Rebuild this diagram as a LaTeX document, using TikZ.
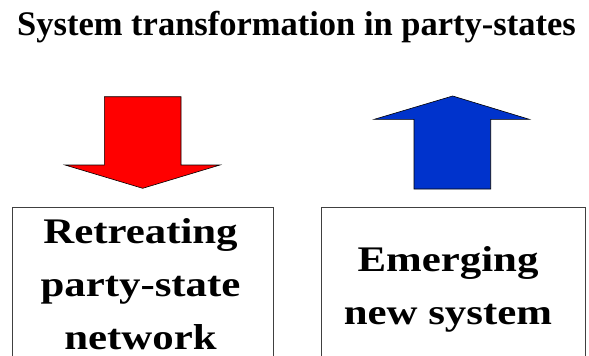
\documentclass[tikz,border=0pt]{standalone}
\usepackage{fontspec}
\setmainfont{Liberation Serif}
\newfontfamily\boxfont[FakeStretch=1.19]{Liberation Serif}
\usepackage{tikz}

\definecolor{upblue}{RGB}{0,51,204}
\definecolor{downred}{RGB}{255,0,0}

\begin{document}
\begin{tikzpicture}[x=1pt,y=-1pt,
	box/.style={draw=black!75, line width=0.8pt, anchor=north west, minimum height=200pt, inner sep=0pt},
	boxtext/.style={font=\boxfont\bfseries\fontsize{36}{53}\selectfont, align=center, anchor=base},
	bigarrow/.style={draw=black, line width=0.6pt, line join=miter}]
	\useasboundingbox (0,0) rectangle (589,356);

	\node[font=\bfseries\fontsize{34.5}{40}\selectfont, anchor=base] (title) at (296.5,35) {System transformation in party-states};

	% down arrow
	\draw[bigarrow, fill=downred] (104.3,96.7) -- (181,96.7) -- (181,165) -- (220,165) -- (142.7,188.3) -- (65,165) -- (104.3,165) -- cycle;
	% up arrow
	\draw[bigarrow, fill=upblue] (414,189) -- (490.7,189) -- (490.7,119.3) -- (529.3,119.3) -- (452.7,96) -- (374.3,119.3) -- (414,119.3) -- cycle;

	\node[box, minimum width=261.5pt] (retreat) at (11.5,206.5) {};
	\node[box, minimum width=264pt] (emerge) at (321,207) {};

	% base of a multi-line node is the last line
	\node[boxtext] (retreattext) at (140.5,349) {Retreating\\party-state\\network};
	\node[boxtext] (emergetext) at (448,324) {Emerging\\new system};
\end{tikzpicture}
\end{document}
